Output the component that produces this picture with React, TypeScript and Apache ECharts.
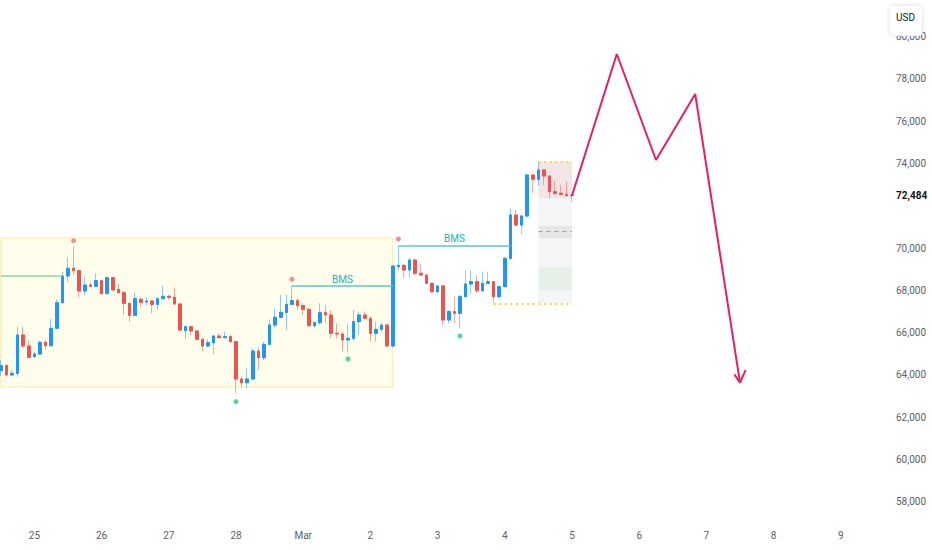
import React, { useEffect, useRef } from "react";
import * as echarts from "echarts";

// ---- x axis (2-hour bars, 12 per day) ----
const DAY_LABELS = ["25", "26", "27", "28", "Mar", "2", "3", "4", "5", "6", "7", "8", "9"];
const FIRST_DAY_BAR = 6;
const BARS_PER_DAY = 12;
const BAR_COUNT = 155;

// ---- y axis ----
const Y_MIN = 56000;
const Y_MAX = 82000;
const Y_STEP = 2000;
const HIDDEN_TICKS = [56000, 72000, 82000];

// ---- candles ----
const OPEN = [
  64200, 64437, 63995, 64074, 65887, 65366, 64862, 64988, 65540, 65382,
  66202, 67415, 68676, 69039, 68928, 67967, 68251, 68187, 68455, 67841,
  68597, 68046, 67888, 67384, 66816, 67573, 67447, 67494, 67336, 67604,
  67715, 67667, 67352, 66091, 66281, 66076, 65681, 65366, 65524, 65839,
  65760, 65808, 65571, 63806, 63633, 63806, 65130, 64815, 65445, 66359,
  66722, 66958, 67336, 67510, 67273, 67100, 66328, 66470, 66942, 66832,
  65965, 65934, 65650, 65729, 66517, 66832, 66675, 65965, 66155, 66359,
  65366, 69117, 69180, 68960, 69432, 68802, 68724, 68329, 67935, 68203,
  66596, 66990, 66911, 67699, 68298, 68408, 67983, 68329, 68408, 67699,
  68171, 69511, 71560, 71088, 71513, 73451, 73246, 73688, 73404, 72663,
  72585, 72537, 72474,
];
const CLOSE = [
  64437, 63995, 64074, 65887, 65366, 64831, 64988, 65540, 65382, 66202,
  67415, 68676, 69039, 68928, 67967, 68251, 68187, 68455, 67841, 68597,
  68014, 67888, 67384, 66816, 67604, 67431, 67494, 67336, 67604, 67715,
  67667, 67352, 66123, 66281, 66076, 65681, 65366, 65524, 65839, 65760,
  65808, 65571, 63806, 63633, 63806, 65130, 64815, 65445, 66359, 66722,
  66958, 67336, 67510, 67273, 67100, 66328, 66470, 66942, 66832, 65965,
  65934, 65650, 65729, 66517, 66832, 66675, 65965, 66155, 66359, 65366,
  69149, 69180, 68960, 69432, 68802, 68724, 68329, 67935, 68203, 66596,
  66990, 66911, 67699, 68298, 68408, 67983, 68329, 68408, 67699, 68171,
  69511, 71560, 71088, 71513, 73451, 73246, 73688, 73404, 72663, 72585,
  72537, 72474, 72484,
];
const LOW = [
  63948, 63917, 63917, 63917, 65256, 64783, 64800, 64941, 65209, 65335,
  66202, 67384, 68408, 68723, 67667, 67778, 68172, 68172, 67825, 67825,
  67983, 67857, 66832, 66517, 66785, 67194, 67273, 66911, 67100, 67604,
  67541, 67320, 66044, 65681, 65887, 65650, 65130, 65303, 64988, 65729,
  65729, 65540, 63128, 63396, 63365, 63774, 64232, 64705, 65398, 66202,
  66675, 66123, 67304, 67100, 66832, 66280, 66202, 66360, 66438, 65729,
  65729, 65098, 65051, 65650, 65886, 66627, 65571, 65571, 66044, 65366,
  65303, 68960, 68566, 68613, 68723, 68645, 68298, 67888, 67856, 66359,
  66438, 66438, 66202, 67667, 67856, 67856, 67935, 68298, 67384, 67620,
  68140, 69432, 71008, 70662, 71450, 72585, 72931, 72979, 72348, 72506,
  72490, 72427, 72191,
];
const HIGH = [
  64705, 64515, 64232, 66281, 66249, 65650, 65098, 65619, 65619, 66643,
  67573, 68881, 69559, 70063, 68960, 68645, 68361, 68802, 68487, 68613,
  68613, 68298, 67967, 67415, 67888, 67667, 67651, 67525, 67667, 68203,
  67778, 68124, 67384, 66281, 66312, 66076, 65729, 65682, 65886, 65965,
  66044, 65886, 65571, 63916, 64311, 65256, 65303, 65571, 66627, 67147,
  67778, 67778, 68203, 67620, 67383, 67179, 66517, 67384, 67305, 67069,
  66438, 66044, 66438, 67069, 66990, 66990, 66753, 66517, 66438, 66391,
  69180, 70095, 69275, 69542, 69464, 69243, 68755, 68361, 68250, 68250,
  67069, 67699, 67778, 68960, 68960, 68723, 68881, 68881, 68440, 68203,
  69590, 71875, 71797, 71560, 73499, 73499, 74082, 73719, 73451, 73183,
  72979, 73136, 72537,
];
const LAST_PRICE = 72484;

// ---- swing markers ----
const SWING_HIGH_BARS = [13, 52, 71];
const SWING_HIGH_DOTS = [70345, 68520, 70425];
const SWING_LOW_BARS = [42, 62, 82];
const SWING_LOW_DOTS = [62733, 64752, 65839];

// ---- structure lines ----
const BMS_START = [52, 71];
const BMS_END = [70, 91];
const BMS_LEVEL = [68203, 70095];
const PRIOR_LINE_START = 0;
const PRIOR_LINE_END = 11;
const PRIOR_LINE_LEVEL = 68676;

// ---- range box ----
const RANGE_START = 0;
const RANGE_END = 70;
const RANGE_TOP = 70473;
const RANGE_BOTTOM = 63428;

// ---- zone at the right ----
const ZONE_START = 96;
const ZONE_END = 102;
const ZONE_TOP = 74080;
const ZONE_BOTTOM = 67385;
const ZONE_BOTTOM_LINE_START = 88;
const RED_ZONE = [74080, 72364];
const MID_BAND = [71040, 70459];
const MID_LINE = 70771;
const GREEN_ZONE = [69087, 68014];

// ---- projected path ----
const PROJ_BARS = [102, 110, 117, 124, 132];
const PROJ_VALUES = [72484, 79172, 74161, 77281, 63631];
const ARROW_BARS = [131, 132, 133];
const ARROW_VALUES = [64025, 63631, 64229];

const FONT = "Roboto, 'Liberation Sans', sans-serif";
const UP = "#2196f3";
const DOWN = "#ef5350";
const UP_WICK = "rgba(33,150,243,0.5)";
const DOWN_WICK = "rgba(239,83,80,0.5)";
const BMS_COLOR = "#5cc6d2";
const BMS_TEXT = "#26aebf";
const AXIS_TEXT = "#5d606b";

export default function App() {
  const ref = useRef<HTMLDivElement>(null);

  useEffect(() => {
    const chart = echarts.init(ref.current!, null, { renderer: "svg" });
    const cats = Array.from({ length: BAR_COUNT }, (_, i) => String(i));
    const ohlc = OPEN.map((o, i) => [o, CLOSE[i], LOW[i], HIGH[i]]);
    const bodies = OPEN.map((o, i) => [o, CLOSE[i], Math.min(o, CLOSE[i]), Math.max(o, CLOSE[i])]);
    const c = (i: number) => String(i);

    const bmsLines = BMS_START.map((s, k) => [
      {
        coord: [c(s), BMS_LEVEL[k]],
        lineStyle: { color: BMS_COLOR, width: 1.5, type: "solid" },
        label: {
          show: true,
          formatter: "BMS",
          position: "insideMiddleTop",
          distance: 2,
          color: BMS_TEXT,
          fontSize: 10,
          fontFamily: FONT,
        },
      },
      { coord: [c(BMS_END[k]), BMS_LEVEL[k]] },
    ]);

    const option: any = {
      animation: false,
      backgroundColor: "#ffffff",
      grid: { left: -2, top: -5.8, width: 868, height: 549.9, outerBoundsMode: "none", containLabel: false },
      xAxis: {
        type: "category",
        data: cats,
        boundaryGap: true,
        offset: -22,
        axisLine: { show: false },
        axisTick: { show: false },
        splitLine: { show: false },
        axisLabel: {
          interval: 0,
          margin: 8,
          color: AXIS_TEXT,
          fontSize: 10,
          fontFamily: FONT,
          formatter: (v: string) => {
            const i = Number(v) - FIRST_DAY_BAR;
            if (i < 0 || i % BARS_PER_DAY !== 0) return "";
            return DAY_LABELS[i / BARS_PER_DAY] ?? "";
          },
        },
      },
      yAxis: {
        type: "value",
        position: "right",
        min: Y_MIN,
        max: Y_MAX,
        interval: Y_STEP,
        axisLine: { show: false },
        axisTick: { show: false },
        splitLine: { show: false },
        axisLabel: {
          margin: 30,
          color: AXIS_TEXT,
          fontSize: 10,
          fontFamily: FONT,
          formatter: (v: number) => (HIDDEN_TICKS.includes(v) ? "" : v.toLocaleString("en-US")),
        },
      },
      series: [
        {
          type: "candlestick",
          name: "wicks",
          data: ohlc,
          barWidth: 3.2,
          silent: true,
          itemStyle: {
            color: "transparent",
            color0: "transparent",
            borderColor: UP_WICK,
            borderColor0: DOWN_WICK,
            borderWidth: 1,
          },
          markArea: {
            silent: true,
            data: [
              [
                {
                  xAxis: c(RANGE_START),
                  yAxis: RANGE_TOP,
                  itemStyle: { color: "rgba(255,235,59,0.1)", borderColor: "rgba(255,193,7,0.35)", borderWidth: 1 },
                },
                { xAxis: c(RANGE_END), yAxis: RANGE_BOTTOM },
              ],
              [
                { xAxis: c(ZONE_START), yAxis: ZONE_TOP, itemStyle: { color: "rgba(120,123,134,0.08)" } },
                { xAxis: c(ZONE_END), yAxis: ZONE_BOTTOM },
              ],
              [
                { xAxis: c(ZONE_START), yAxis: RED_ZONE[0], itemStyle: { color: "rgba(242,54,69,0.08)" } },
                { xAxis: c(ZONE_END), yAxis: RED_ZONE[1] },
              ],
              [
                { xAxis: c(ZONE_START), yAxis: MID_BAND[0], itemStyle: { color: "rgba(120,123,134,0.12)" } },
                { xAxis: c(ZONE_END), yAxis: MID_BAND[1] },
              ],
              [
                { xAxis: c(ZONE_START), yAxis: GREEN_ZONE[0], itemStyle: { color: "rgba(76,175,80,0.08)" } },
                { xAxis: c(ZONE_END), yAxis: GREEN_ZONE[1] },
              ],
            ],
          },
        },
        {
          type: "candlestick",
          name: "bodies",
          data: bodies,
          barWidth: 3.2,
          silent: true,
          itemStyle: {
            color: UP,
            color0: DOWN,
            borderColor: UP,
            borderColor0: DOWN,
            borderWidth: 1,
          },
          markLine: {
            silent: true,
            symbol: ["none", "none"],
            label: { show: false },
            data: [
              [
                {
                  coord: [c(PRIOR_LINE_START), PRIOR_LINE_LEVEL],
                  lineStyle: { color: "#8fd3a6", width: 1.5, type: "solid" },
                },
                { coord: [c(PRIOR_LINE_END), PRIOR_LINE_LEVEL] },
              ],
              ...bmsLines,
              [
                { coord: [c(ZONE_START), ZONE_TOP], lineStyle: { color: "#f2dc3a", width: 2, type: [2, 3.6] } },
                { coord: [c(ZONE_END), ZONE_TOP] },
              ],
              [
                {
                  coord: [c(ZONE_BOTTOM_LINE_START), ZONE_BOTTOM],
                  lineStyle: { color: "#f2dc3a", width: 2, type: [2, 3.6] },
                },
                { coord: [c(ZONE_END), ZONE_BOTTOM] },
              ],
              [
                { coord: [c(ZONE_START), MID_LINE], lineStyle: { color: "#a3a6ae", width: 1, type: [4, 4] } },
                { coord: [c(ZONE_END), MID_LINE] },
              ],
              {
                yAxis: LAST_PRICE,
                lineStyle: { color: "transparent", width: 0 },
                label: {
                  show: true,
                  position: "end",
                  distance: 30,
                  formatter: LAST_PRICE.toLocaleString("en-US"),
                  color: "#131722",
                  fontWeight: "bold",
                  fontSize: 10,
                  fontFamily: FONT,
                },
              },
            ],
          },
        },
        {
          type: "scatter",
          name: "swing highs",
          silent: true,
          symbolSize: 5,
          itemStyle: { color: "#f47174" },
          data: SWING_HIGH_BARS.map((b, i) => [b, SWING_HIGH_DOTS[i]]),
        },
        {
          type: "scatter",
          name: "swing lows",
          silent: true,
          symbolSize: 5,
          itemStyle: { color: "#1fd17a" },
          data: SWING_LOW_BARS.map((b, i) => [b, SWING_LOW_DOTS[i]]),
        },
        {
          type: "line",
          name: "projection",
          silent: true,
          symbol: "none",
          lineStyle: { color: "#e91e63", width: 2 },
          data: PROJ_BARS.map((b, i) => [b, PROJ_VALUES[i]]),
          z: 5,
        },
        {
          type: "line",
          name: "arrow",
          silent: true,
          symbol: "none",
          lineStyle: { color: "#e91e63", width: 2 },
          data: ARROW_BARS.map((b, i) => [b, ARROW_VALUES[i]]),
          z: 5,
        },
      ],
      graphic: [
        {
          type: "rect",
          right: 9,
          top: 5,
          z: 100,
          shape: { width: 33, height: 30, r: 4 },
          style: { fill: "#ffffff", stroke: "#eceef2", lineWidth: 1, shadowBlur: 4, shadowColor: "rgba(0,0,0,0.08)" },
        },
        {
          type: "text",
          right: 17,
          top: 12,
          z: 101,
          style: { text: "USD", fill: "#131722", fontSize: 10, fontFamily: FONT },
        },
      ],
    };

    chart.setOption(option);
    return () => chart.dispose();
  }, []);

  return (
    <div
      ref={ref}
      style={{ position: "absolute", left: 0, top: 0, width: 932, height: 550, background: "#fff" }}
    />
  );
}
